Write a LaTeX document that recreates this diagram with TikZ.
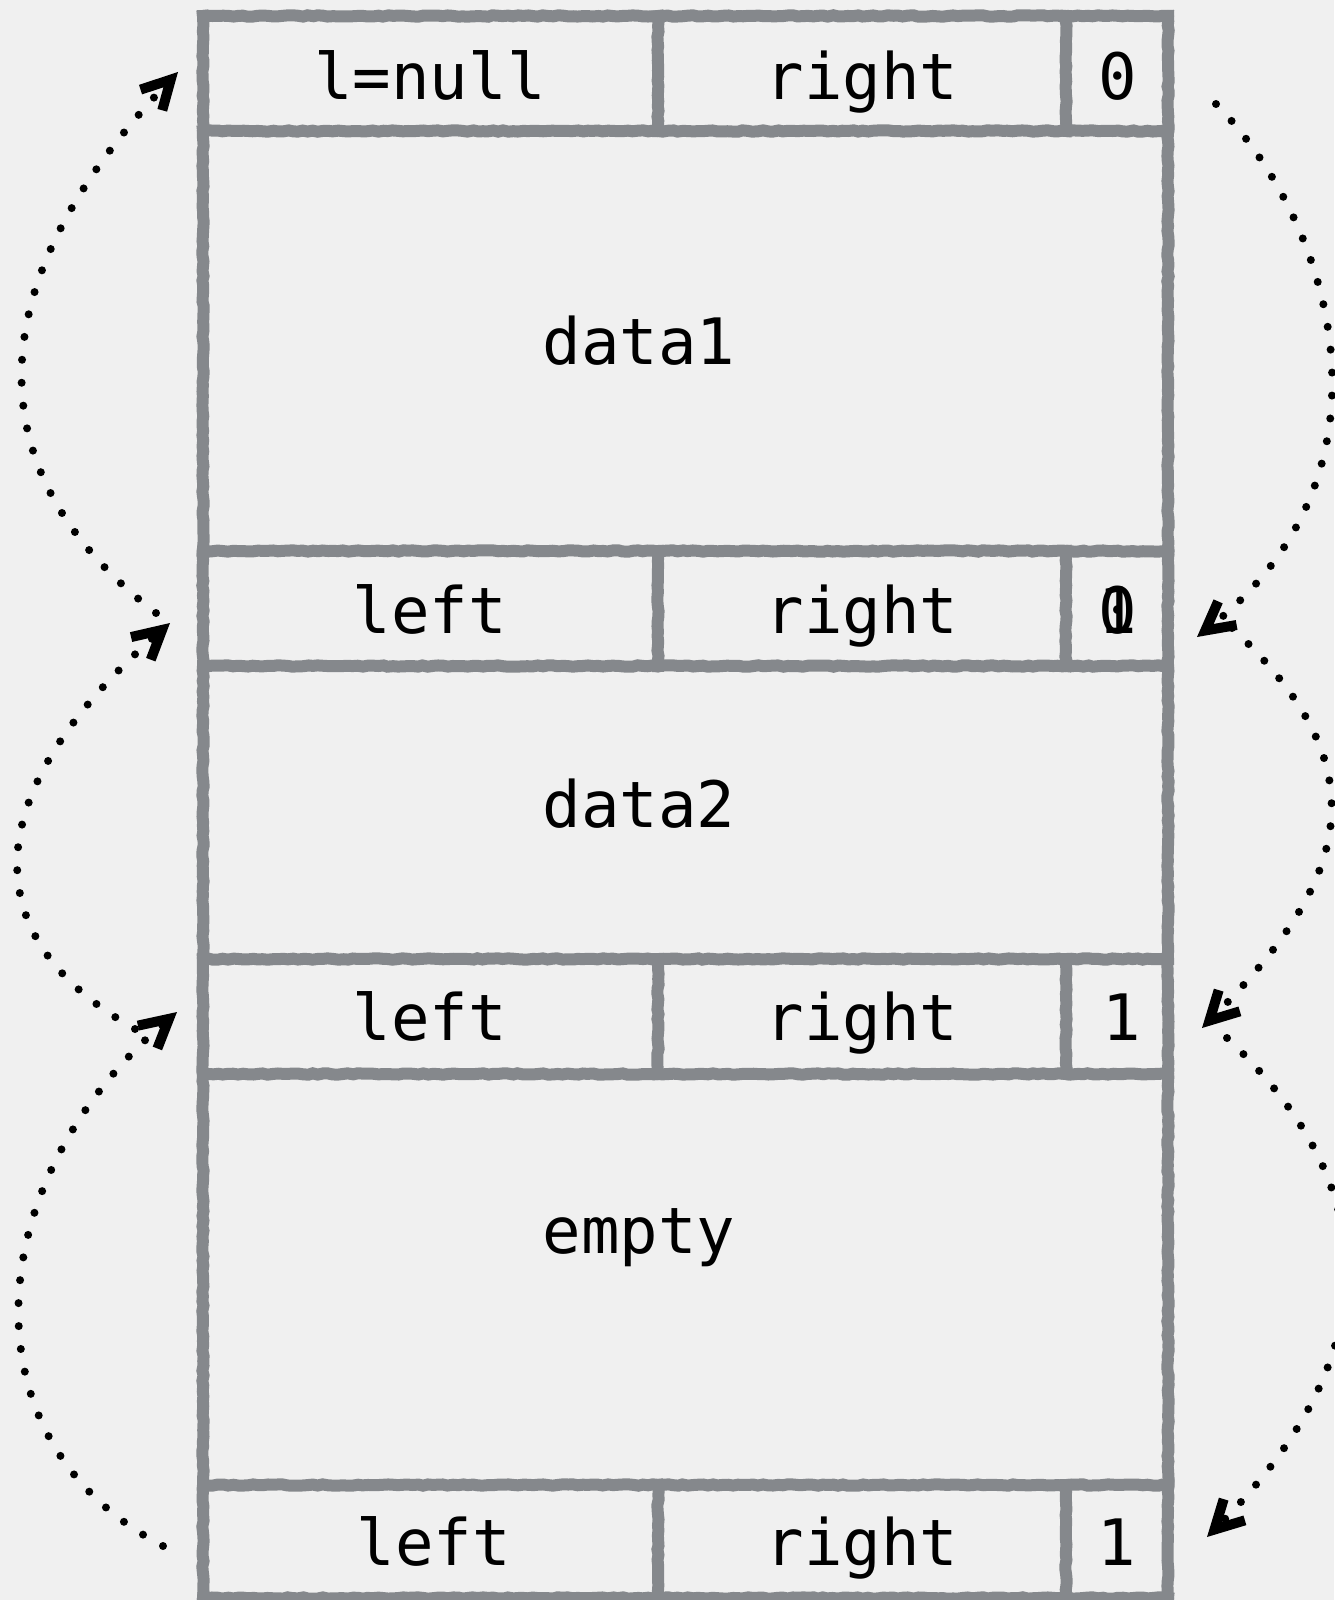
\documentclass[tikz,border=0pt]{standalone}
\usepackage{fontspec}
\newfontfamily\monof{DejaVu Sans Mono}
\usetikzlibrary{arrows.meta,decorations.pathmorphing}
\definecolor{bgc}{HTML}{F0F0F0}
\definecolor{gridc}{HTML}{85888C}
\begin{document}
\begin{tikzpicture}[x=1pt,y=-1pt,
  gridline/.style={draw=gridc, line width=12pt, line cap=rect,
    decorate, decoration={random steps, segment length=5pt, amplitude=0.7pt}},
  lbl/.style={font=\monof\fontsize{64}{70}\selectfont, anchor=base, inner sep=0pt, text=black},
  link/.style={line width=8pt, line cap=round, dash pattern=on 0pt off 23pt,
    -{Straight Barb[length=28pt,width=30pt,line width=10pt,line cap=butt,line join=miter]}}]
\path[fill=bgc] (0,0) rectangle (1334,1600);
\useasboundingbox (0,0) rectangle (1334,1600);

% outer frame and row lines
\foreach \yy in {16,131,551,666,959,1074,1485,1598}
  \draw[gridline] (203,\yy) -- (1168,\yy);
\draw[gridline] (203,16) -- (203,1598);
\draw[gridline] (1168,16) -- (1168,1598);
% header dividers
\foreach \ya/\yb in {16/131,551/666,959/1074,1485/1598}{
  \draw[gridline] (658,\ya) -- (658,\yb);
  \draw[gridline] (1066,\ya) -- (1066,\yb);
}

% texts
\node[lbl] (h1l) at (430,100) {l=null};
\node[lbl] (h1r) at (862,100) {right};
\node[lbl] (h1f) at (1118,100) {0};
\node[lbl] (d1) at (639,364) {data1};
\node[lbl] (h2l) at (430,633) {left};
\node[lbl] (h2r) at (862,633) {right};
\node[lbl] (h2f) at (1118,633) {0};
\node[lbl] (h2g) at (1118,633) {1};
\node[lbl] (d2) at (639,827) {data2};
\node[lbl] (h3l) at (430,1040) {left};
\node[lbl] (h3r) at (862,1040) {right};
\node[lbl] (h3f) at (1122,1040) {1};
\node[lbl] (d3) at (639,1253) {empty};
\node[lbl] (h4l) at (434,1565) {left};
\node[lbl] (h4r) at (862,1565) {right};
\node[lbl] (h4f) at (1117,1565) {1};

% arrow end points
\coordinate (ls1) at (156,613);  \coordinate (le1) at (178,72);
\coordinate (ls2) at (135,1029); \coordinate (le2) at (170,623);
\coordinate (ls3) at (163,1546); \coordinate (le3) at (177,1012);
\coordinate (rs1) at (1216,104); \coordinate (re1) at (1197,637);
\coordinate (rs2) at (1232,628); \coordinate (re2) at (1202,1028);
\coordinate (rs3) at (1227,1038);\coordinate (re3) at (1207,1537);

\draw[link] (ls1) .. controls (-30,470) and (-20,280) .. (le1);
\draw[link] (ls2) .. controls (-40,930) and (-10,780) .. (le2);
\draw[link] (ls3) .. controls (-40,1440) and (-20,1180) .. (le3);
\draw[link] (rs1) .. controls (1330,220) and (1410,470) .. (re1);
\draw[link] (rs2) .. controls (1382,768) and (1352,878) .. (re2);
\draw[link] (rs3) .. controls (1397,1198) and (1377,1367) .. (re3);
\end{tikzpicture}
\end{document}
